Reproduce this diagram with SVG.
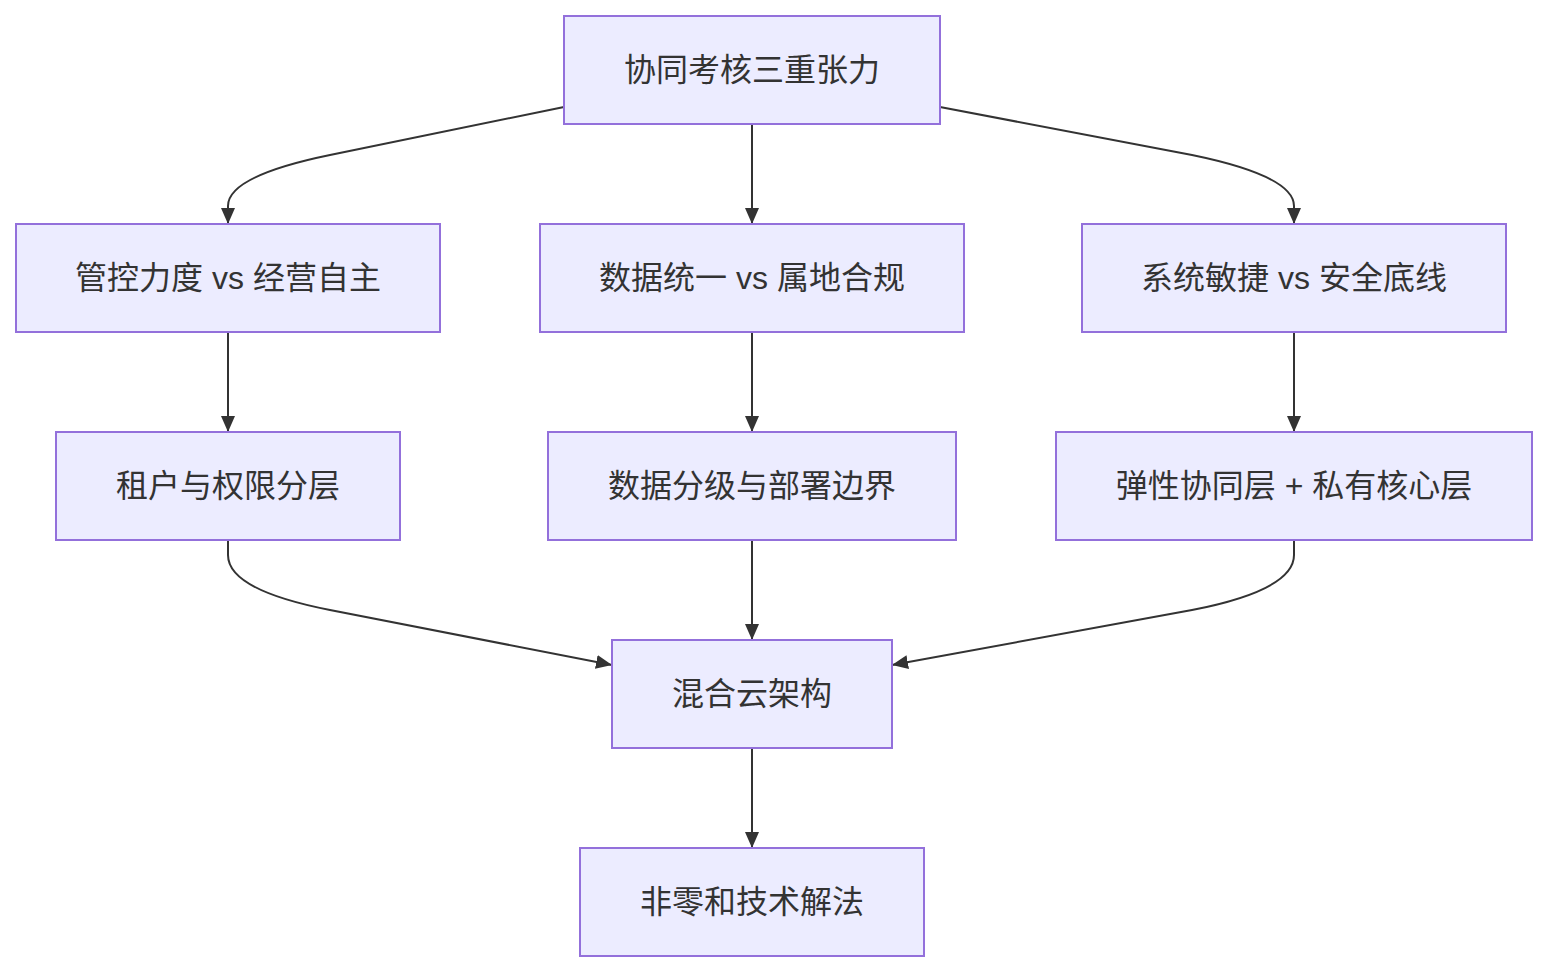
<svg xmlns="http://www.w3.org/2000/svg" width="1547" height="972" viewBox="0 0 1547 972">
<style>
.node rect{fill:#ECECFF;stroke:#9370DB;stroke-width:2}
.node text{font-family:"Liberation Sans","Noto Sans CJK SC",sans-serif;font-size:32px;fill:#333333;text-anchor:middle;dominant-baseline:central}
.edges path{fill:none;stroke:#333333;stroke-width:2;marker-end:url(#arrow)}
</style>
<defs>
<marker id="arrow" markerUnits="userSpaceOnUse" markerWidth="16" markerHeight="14" refX="16" refY="7" orient="auto" viewBox="0 0 16 14">
<path d="M0,0 L16,7 L0,14 z" fill="#333333"/>
</marker>
</defs>
<rect width="1547" height="972" fill="#ffffff"/>
<g class="edges">
<path d="M564,107 L330,155 Q228,176 228,206 L228,224"/>
<path d="M752,124 L752,224"/>
<path d="M940,107 L1192,155 Q1294,176 1294,206 L1294,224"/>
<path d="M228,332 L228,432"/>
<path d="M752,332 L752,432"/>
<path d="M1294,332 L1294,432"/>
<path d="M228,540 L228,555 Q228,590 330,610 L612,665"/>
<path d="M752,540 L752,640"/>
<path d="M1294,540 L1294,555 Q1294,590 1192,610 L892,665"/>
<path d="M752,748 L752,848"/>
</g>
<g id="n_top" class="node"><rect x="564" y="16" width="376" height="108"/><text x="752" y="70">协同考核三重张力</text></g>
<g id="n_a" class="node"><rect x="16" y="224" width="424" height="108"/><text x="228" y="278">管控力度 vs 经营自主</text></g>
<g id="n_b" class="node"><rect x="540" y="224" width="424" height="108"/><text x="752" y="278">数据统一 vs 属地合规</text></g>
<g id="n_c" class="node"><rect x="1082" y="224" width="424" height="108"/><text x="1294" y="278">系统敏捷 vs 安全底线</text></g>
<g id="n_d" class="node"><rect x="56" y="432" width="344" height="108"/><text x="228" y="486">租户与权限分层</text></g>
<g id="n_e" class="node"><rect x="548" y="432" width="408" height="108"/><text x="752" y="486">数据分级与部署边界</text></g>
<g id="n_f" class="node"><rect x="1056" y="432" width="476" height="108"/><text x="1294" y="486">弹性协同层 + 私有核心层</text></g>
<g id="n_h" class="node"><rect x="612" y="640" width="280" height="108"/><text x="752" y="694">混合云架构</text></g>
<g id="n_z" class="node"><rect x="580" y="848" width="344" height="108"/><text x="752" y="902">非零和技术解法</text></g>
</svg>
